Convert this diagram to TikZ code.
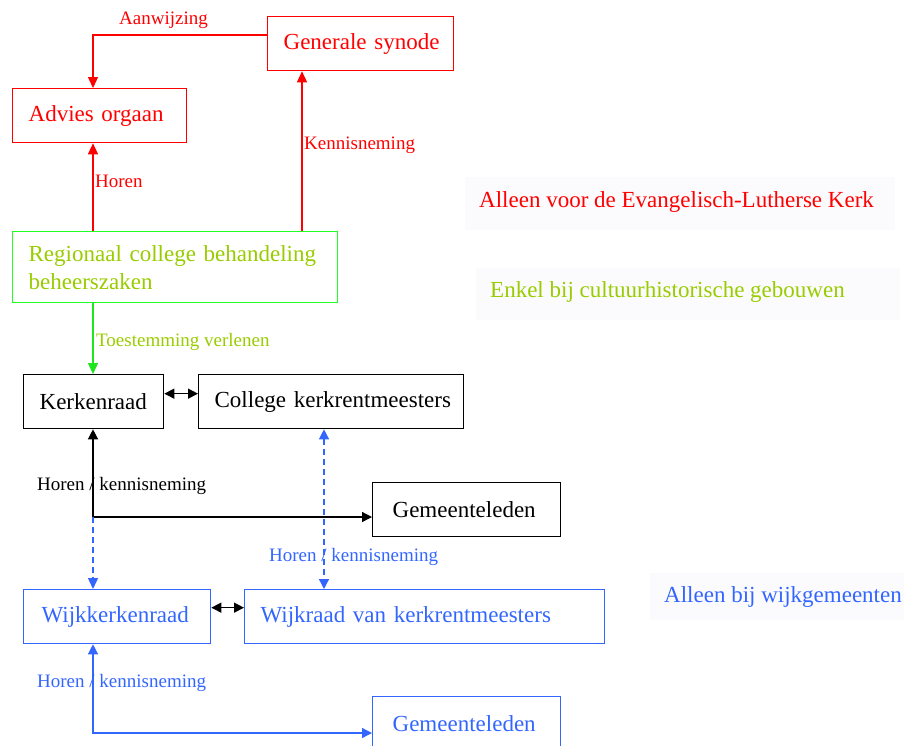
\documentclass[tikz,border=0pt]{standalone}
\usepackage{fontspec}
\setmainfont{Liberation Serif}
\usetikzlibrary{arrows.meta,calc}
\definecolor{cred}{HTML}{FF0000}
\definecolor{cgreen}{HTML}{22FF22}
\definecolor{ctext}{HTML}{99CC00}
\definecolor{cblue}{HTML}{3366FF}
\definecolor{legbg}{HTML}{FBFBFD}
\newcommand{\bigtxt}{\fontsize{23}{28}\selectfont}
\newcommand{\smalltxt}{\fontsize{19}{22}\selectfont}
\tikzset{
  box/.style={draw, line width=1.3pt, rectangle, anchor=north west, inner xsep=16pt,
    inner ysep=0pt, align=left, font=\bigtxt},
  lbl/.style={anchor=west, inner sep=0pt, font=\smalltxt},
  leg/.style={anchor=west, inner sep=0pt, font=\bigtxt},
  conn/.style={line width=1.3pt, -{Triangle[length=11pt,width=10pt]}},
  both/.style={line width=1.3pt, {Triangle[length=10pt,width=10pt]}-{Triangle[length=10pt,width=10pt]}},
  dash line/.style={dash pattern=on 6pt off 4pt}
}
\begin{document}
\begin{tikzpicture}[x=1pt,y=-1pt]
\clip (0,0) rectangle (904,745);
% faint legend panels
\fill[legbg] (465,177) rectangle (895,230);
\fill[legbg] (476,268) rectangle (900,320);
\fill[legbg] (650,573) rectangle (904,620);

% boxes
\node[box, draw=cred, text=cred, minimum width=186pt, minimum height=54pt, text width=154pt] (gs) at (267,16) {\mbox{Generale synode}};
\node[box, draw=cred, text=cred, minimum width=174pt, minimum height=54pt, text width=142pt] (ao) at (12,88) {\mbox{Advies orgaan}};
\node[box, draw=cgreen, text=ctext, minimum width=325pt, minimum height=71pt, text width=293pt] (rc) at (12,231) {Regionaal college behandeling\\beheerszaken};
\node[box, draw=black, text=black, minimum width=140pt, minimum height=54pt, text width=108pt] (kr) at (23,374) {\mbox{Kerkenraad}};
\node[box, draw=black, text=black, minimum width=265pt, minimum height=54pt, text width=233pt] (ck) at (198,374) {\mbox{College kerkrentmeesters}};
\node[box, draw=black, text=black, minimum width=185pt, minimum height=54pt, text width=148pt, inner xsep=20pt] (gm1) at (372,482) {\mbox{Gemeenteleden}};
\node[box, draw=cblue, text=cblue, minimum width=187pt, minimum height=54pt, text width=151pt, inner xsep=18pt] (wk) at (23,589) {\mbox{Wijkkerkenraad}};
\node[box, draw=cblue, text=cblue, minimum width=360pt, minimum height=54pt, text width=328pt] (wr) at (244,589) {\mbox{Wijkraad van kerkrentmeesters}};
\node[box, draw=cblue, text=cblue, minimum width=185pt, minimum height=54pt, text width=148pt, inner xsep=20pt] (gm2) at (372,696) {\mbox{Gemeenteleden}};

% reference columns and bends
\coordinate (kx) at (93,0);
\coordinate (px) at (302,0);
\coordinate (cx) at (324,0);
\coordinate (j1) at (93,517);
\coordinate (j2) at (93,733);

% connectors
\draw[conn, cred] ($(gs.north west)+(0,19)$) -| (kx |- ao.north);
\draw[conn, cred] (kx |- rc.north) -- (kx |- ao.south);
\draw[conn, cred] (px |- rc.north) -- (px |- gs.south);
\draw[conn, cgreen!90!black] (kx |- rc.south) -- (kx |- kr.north);
\draw[both, black] ($(kr.east)+(0,-8)$) -- ($(ck.west)+(0,-8)$);
\draw[both, black] (kx |- kr.south) -- (j1) -- (j1 -| gm1.west);
\draw[conn, cblue, dash line] (j1) -- (kx |- wk.north);
\draw[both, cblue, dash line] (cx |- ck.south) -- (cx |- wr.north);
\draw[both, black] ($(wk.east)+(0,-9)$) -- ($(wr.west)+(0,-9)$);
\draw[both, cblue] (kx |- wk.south) -- (j2) -- (j2 -| gm2.west);

% connector labels
\node[lbl, text=cred] (l1) at (119,20) {Aanwijzing};
\node[lbl, text=cred] (l2) at (95,181) {Horen};
\node[lbl, text=cred] (l3) at (304,145) {Kennisneming};
\node[lbl, text=ctext] (l4) at (96,342) {Toestemming verlenen};
\node[lbl, text=black] (l5) at (37,486) {Horen / kennisneming};
\node[lbl, text=cblue] (l6) at (269,557) {Horen / kennisneming};
\node[lbl, text=cblue] (l7) at (37,683) {Horen / kennisneming};

% legend
\node[leg, text=cred] (g1) at (479,202) {Alleen voor de Evangelisch-Lutherse Kerk};
\node[leg, text=ctext] (g2) at (490,292) {Enkel bij cultuurhistorische gebouwen};
\node[leg, text=cblue] (g3) at (664,597) {Alleen bij wijkgemeenten};
\end{tikzpicture}
\end{document}
